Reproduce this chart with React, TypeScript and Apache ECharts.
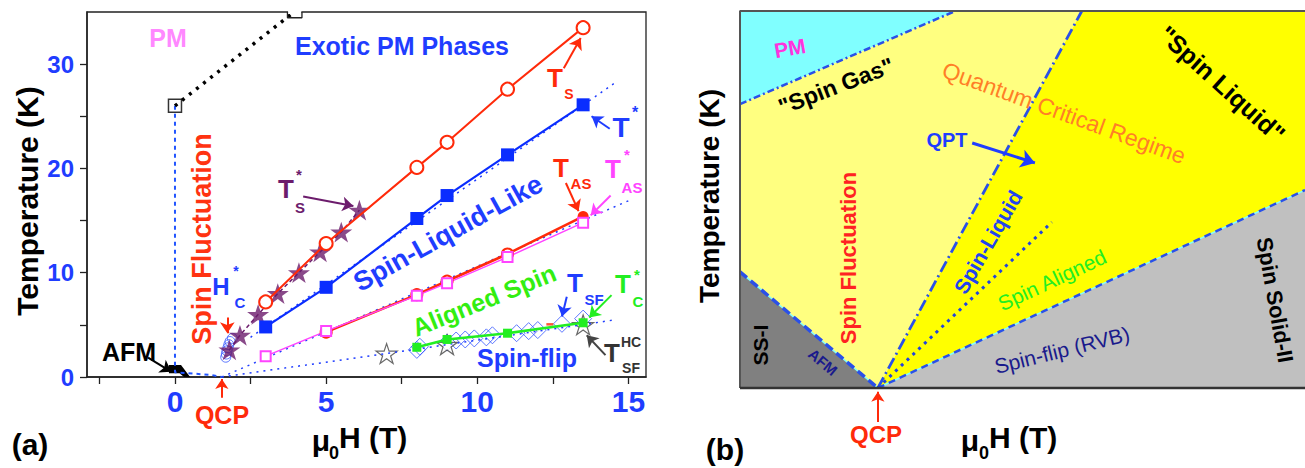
import React, { useEffect, useRef } from 'react';
import * as echarts from 'echarts';

const FONT = '"Liberation Sans", Arial, Helvetica, sans-serif';
const BLUE = '#1f3dff';
const RED = '#ff2a0a';
const MAGENTA = '#ff44ff';
const PURPLE = '#6c1c6c';
const GREEN = '#22ee22';
const DARK = '#333333';

// ---------- Panel (a): field μ0H (T) versus temperature (K) ----------
const tsField = [3, 5, 8, 9, 11, 13.5];
const tsTemp = [7.2, 12.8, 20.1, 22.5, 27.6, 33.5];

const tStarField = [3, 5, 8, 9, 11, 13.5];
const tStarTemp = [4.8, 8.6, 15.2, 17.4, 21.3, 26.1];

const tsStarField = [1.8, 2.15, 2.75, 3.4, 4.1, 4.8, 5.5, 6.1];
const tsStarTemp = [2.6, 4.0, 6.0, 8.0, 10.0, 12.0, 13.9, 16.0];

const tasField = [5, 8, 9, 11, 13.5];
const tasTemp = [4.3, 7.9, 9.2, 11.8, 15.4];

const tasStarField = [3, 5, 8, 9, 11, 13.5];
const tasStarTemp = [2.0, 4.4, 7.8, 9.0, 11.5, 14.8];

const tsfField = [8.0, 8.1, 9.0, 9.3, 9.6, 9.9, 10.3, 10.5, 11.3, 11.7, 12.0, 12.8, 13.5];
const tsfTemp = [2.6, 2.9, 3.3, 3.5, 3.6, 3.7, 3.8, 4.0, 4.2, 4.4, 4.5, 5.1, 5.6];

const tcStarField = [8, 9, 11, 13.5];
const tcStarTemp = [2.85, 3.6, 4.2, 5.2];

const tsfHcField = [7, 9, 13.5];
const tsfHcTemp = [2.25, 3.1, 5.0];

const hcField = [1.68, 1.7, 1.72, 1.75, 1.78, 1.82, 1.9];
const hcTemp = [1.9, 2.2, 2.5, 2.8, 3.1, 3.4, 3.7];

const extraMark = [[12.4, 5.05]];
const pmOnset = [[0, 26]];

// guide lines (field, temperature)
const fitTStar = [[2.5, 3.8], [14.6, 28.3]];
const fitTas = [[1.55, 0], [15, 16.9]];
const fitSpinFlip = [[1.55, 0], [7, 2.25], [14.6, 5.5]];
const pmBoundary = [[0, 26], [3.85, 34.8]];
const afmLink = [[0, 26], [0, 0.45], [1.2, 0.2], [1.55, 0]];
const afmRegion = [[-0.2, 0.35], [-0.2, 1.15], [0.2, 1.15], [0.5, 0], [0.3, 0], [0.15, 0.35]];
const axisBreak = [[3.72, 35], [3.72, 34.45], [4.2, 34.45], [4.2, 35]];
const axisBreakGap = [[3.74, 35], [4.18, 35]];

const xTicksA = [-2.5, 0, 2.5, 5, 7.5, 10, 12.5, 15];
const xLabelsA = [0, 5, 10, 15];
const yTicksA = [0, 5, 10, 15, 20, 25, 30];
const yLabelsA = [0, 10, 20, 30];

// annotation arrows of panel (a), [from, to, colour]
const arrowsA: [number[], number[], string][] = [
  [[12.86, 29.6], [13.42, 32.5], RED],
  [[14.38, 23.8], [13.78, 25.0], BLUE],
  [[12.93, 18.6], [13.35, 15.9], RED],
  [[14.41, 17.4], [13.75, 15.5], MAGENTA],
  [[4.24, 17.3], [5.9, 16.4], PURPLE],
  [[1.73, 5.7], [1.73, 4.2], RED],
  [[12.96, 7.7], [12.8, 5.8], BLUE],
  [[14.44, 7.85], [13.7, 5.7], GREEN],
  [[14.24, 2.1], [13.62, 4.0], '#444'],
  [[-0.89, 1.85], [-0.12, 0.5], '#000'],
];
const qcpArrowA = [[1.55, -2.0], [1.55, -0.2]];

// ---------- Panel (b): schematic phase diagram (arbitrary units 0–10) ----------
const qcpB = [2.44, 0];
const regionPM = [[0, 7.53], [0, 10], [3.81, 10]];
const regionFluct = [[0, 3.08], [0, 7.53], [3.81, 10], [6.05, 10], [2.44, 0]];
const regionLiquid = [[2.44, 0], [6.05, 10], [10, 10], [10, 5.25]];
const regionFlip = [[2.44, 0], [10, 5.25], [10, 0]];
const regionAFM = [[0, 0], [0, 3.08], [2.44, 0]];

const lineGas = [[0, 7.53], [3.81, 10]];
const lineAFM = [[0, 3.08], qcpB];
const lineQPT = [qcpB, [6.05, 10]];
const lineFlip = [qcpB, [10, 5.25]];
const lineAligned = [qcpB, [5.52, 4.4]];
const qptArrow = [[4.11, 6.5], [5.22, 5.97]];
const qcpArrowB = [[2.44, -0.9], [2.44, -0.1]];

const STAR = 'path://M50,2 L61.2,36.2 L97.6,36.2 L68.2,57.6 L79.4,91.8 L50,70.6 L20.6,91.8 L31.8,57.6 L2.4,36.2 L38.8,36.2 Z';

const zip = (xs: number[], ys: number[]) => xs.map((x, i) => [x, ys[i]]);
const A = { xAxisIndex: 0, yAxisIndex: 0 };
const B = { xAxisIndex: 1, yAxisIndex: 1 };

const polygonSeries = (axes: any, pts: number[][], fill: string) => ({
  type: 'custom',
  ...axes,
  silent: true,
  clip: false,
  data: [[pts[0][0], pts[0][1]]],
  renderItem: (_p: any, api: any) => ({
    type: 'polygon',
    shape: { points: pts.map((p) => api.coord(p)) },
    style: { fill },
  }),
});

const guide = (axes: any, data: number[][], color: string, width: number, dash: any, extra: any = {}) => ({
  type: 'line',
  ...axes,
  data,
  symbol: 'none',
  silent: true,
  lineStyle: { color, width, type: dash, cap: 'butt' },
  ...extra,
});

const txt = (x: number, y: number, text: string, size: number, color: string, rot = 0, weight = 'bold', align = 'center') => ({
  type: 'text',
  x,
  y,
  rotation: (rot * Math.PI) / 180,
  z: 100,
  silent: true,
  style: {
    text,
    fill: color,
    fontSize: size,
    fontWeight: weight,
    fontFamily: FONT,
    align,
    verticalAlign: 'middle',
    textAlign: align,
    textVerticalAlign: 'middle',
  },
});

function buildOption() {
  const series: any[] = [
    // panel (b) regions
    polygonSeries(B, regionFluct, '#ffff80'),
    polygonSeries(B, regionPM, '#80ffff'),
    polygonSeries(B, regionLiquid, '#ffff00'),
    polygonSeries(B, regionFlip, '#c0c0c0'),
    polygonSeries(B, regionAFM, '#808080'),
    guide(B, lineGas, '#2a50e8', 2.5, [7, 3, 2, 3], { clip: false }),
    guide(B, lineAFM, '#80ffff', 1.5, 'solid'),
    guide(B, lineAFM, '#2a50e8', 3.5, [9, 5]),
    guide(B, lineFlip, '#80ffff', 1.5, 'solid'),
    guide(B, lineFlip, '#2a50e8', 2.5, [7, 5]),
    guide(B, lineQPT, '#2a50e8', 2.8, [12, 4, 2, 4], { clip: false }),
    guide(B, lineAligned, '#2244dd', 3, [3, 5]),
    guide(B, [[0, 0], [0, 10], [10, 10]], '#555', 2, 'solid', { clip: false }),
    guide(B, [[0, 0], [10, 0]], '#333', 2.5, 'solid', { clip: false }),
    {
      type: 'lines',
      coordinateSystem: 'cartesian2d',
      ...B,
      clip: false,
      silent: true,
      symbol: ['none', 'arrow'],
      symbolSize: 14,
      lineStyle: { width: 3, opacity: 1, color: '#1f3dff' },
      data: [{ coords: qptArrow }],
      z: 5,
    },
    {
      type: 'lines',
      coordinateSystem: 'cartesian2d',
      ...B,
      clip: false,
      silent: true,
      symbol: ['none', 'arrow'],
      symbolSize: 10,
      lineStyle: { width: 2, opacity: 1, color: RED },
      data: [{ coords: qcpArrowB }],
      z: 5,
    },

    // panel (a)
    polygonSeries(A, afmRegion, '#000'),
    guide(A, fitTStar, BLUE, 1.5, [2, 5]),
    guide(A, fitTas, BLUE, 1.5, [2, 5]),
    guide(A, fitSpinFlip, BLUE, 1.5, [2, 5]),
    guide(A, afmLink, '#2255ff', 2, [4, 4]),
    guide(A, pmBoundary, '#000', 3.5, [3, 6], { clip: false }),
    guide(A, axisBreakGap, '#fff', 4, 'solid', { clip: false }),
    guide(A, axisBreak, '#222', 1.3, 'solid', { clip: false }),
    guide(A, zip(tsStarField, tsStarTemp), PURPLE, 1.5, [4, 3]),
    {
      type: 'line',
      ...A,
      silent: true,
      data: zip(tsField, tsTemp),
      symbol: 'emptyCircle',
      symbolSize: 13,
      itemStyle: { color: RED, borderWidth: 1.3 },
      lineStyle: { color: RED, width: 2 },
    },
    {
      type: 'line',
      ...A,
      silent: true,
      data: zip(tStarField, tStarTemp),
      symbol: 'rect',
      symbolSize: 13,
      itemStyle: { color: '#0a2dff' },
      lineStyle: { color: '#0a2dff', width: 2.2 },
    },
    {
      type: 'line',
      ...A,
      silent: true,
      data: zip(tasField, tasTemp).map((p, i) => (i === tasField.length - 1 ? { value: p, symbol: 'circle' } : p)),
      symbol: 'emptyCircle',
      symbolSize: 11,
      itemStyle: { color: RED, borderWidth: 3 },
      lineStyle: { color: RED, width: 2.6 },
    },
    {
      type: 'line',
      ...A,
      silent: true,
      data: zip(tasStarField, tasStarTemp),
      symbol: 'emptyRect',
      symbolSize: 10,
      itemStyle: { color: MAGENTA, borderWidth: 1.2 },
      lineStyle: { color: MAGENTA, width: 1.5 },
    },
    {
      type: 'scatter',
      ...A,
      silent: true,
      data: zip(tsfField, tsfTemp),
      symbol: 'diamond',
      symbolSize: 17,
      itemStyle: { color: 'rgba(0,0,0,0)', borderColor: '#3355ff', borderWidth: 1 },
    },
    {
      type: 'line',
      ...A,
      silent: true,
      data: zip(tcStarField, tcStarTemp),
      symbol: 'rect',
      symbolSize: 9,
      itemStyle: { color: GREEN },
      lineStyle: { color: GREEN, width: 2.5 },
    },
    {
      type: 'scatter',
      ...A,
      silent: true,
      data: zip(tsfHcField, tsfHcTemp),
      symbol: STAR,
      symbolKeepAspect: true,
      symbolSize: 21,
      itemStyle: { color: '#fff', borderColor: '#444', borderWidth: 1.2 },
    },
    {
      type: 'scatter',
      ...A,
      silent: true,
      data: extraMark,
      symbol: 'rect',
      symbolSize: [7, 2.5],
      itemStyle: { color: RED },
    },
    {
      type: 'scatter',
      ...A,
      silent: true,
      data: zip(hcField, hcTemp),
      symbol: 'circle',
      symbolSize: 10,
      itemStyle: { color: 'rgba(0,0,0,0)', borderColor: '#3355ff', borderWidth: 1 },
    },
    {
      type: 'scatter',
      ...A,
      silent: true,
      data: zip(tsStarField, tsStarTemp),
      symbol: STAR,
      symbolKeepAspect: true,
      symbolSize: 22,
      itemStyle: { color: PURPLE },
    },
    {
      type: 'scatter',
      ...A,
      silent: true,
      clip: false,
      data: pmOnset,
      symbol: 'rect',
      symbolSize: 13,
      itemStyle: { color: '#fff', borderColor: '#000', borderWidth: 1.5 },
    },
    {
      type: 'lines',
      coordinateSystem: 'cartesian2d',
      ...A,
      silent: true,
      clip: false,
      symbol: ['none', 'arrow'],
      symbolSize: 11,
      lineStyle: { width: 2, opacity: 1 },
      data: arrowsA.map(([from, to, color]) => ({ coords: [from, to], lineStyle: { color, width: 2, opacity: 1 } })),
      z: 6,
    },
    {
      type: 'lines',
      coordinateSystem: 'cartesian2d',
      ...A,
      silent: true,
      clip: false,
      symbol: ['none', 'arrow'],
      symbolSize: 10,
      lineStyle: { width: 2, opacity: 1, color: RED },
      data: [{ coords: qcpArrowA }],
      z: 6,
    },
  ];

  const graphic: any[] = [
    // panel (a) texts
    txt(27, 201, 'Temperature (K)', 30, '#000', 90),
    txt(321, 440, 'μ', 30, '#000'),
    txt(334, 453, '0', 18, '#000'),
    txt(339, 437, 'H (T)', 30, '#000', 0, 'bold', 'left'),
    txt(30, 444, '(a)', 30, '#000'),
    txt(222, 415, 'QCP', 25, RED),
    txt(129, 352, 'AFM', 25, '#000'),
    txt(168, 38, 'PM', 25, '#ff88ff'),
    txt(402, 46, 'Exotic PM Phases', 25, BLUE),
    txt(202, 239, 'Spin Fluctuation', 27, '#ff3311', 90),
    txt(448, 233, 'Spin-Liquid-Like', 27, BLUE, 29),
    txt(484, 300, 'Aligned Spin', 25, '#33ee11', 22),
    txt(527, 358, 'Spin-flip', 25, BLUE),
    txt(555, 78, 'T', 26, RED),
    txt(569, 94, 'S', 14, RED),
    txt(621, 127, 'T', 28, BLUE),
    txt(635, 112, '*', 16, BLUE),
    txt(561, 168, 'T', 26, RED),
    txt(581, 183, 'AS', 15, RED),
    txt(613, 169, 'T', 26, MAGENTA),
    txt(627, 154, '*', 15, MAGENTA),
    txt(632, 187, 'AS', 15, MAGENTA),
    txt(286, 189, 'T', 26, PURPLE),
    txt(299, 174, '*', 15, PURPLE),
    txt(300, 207, 'S', 15, PURPLE),
    txt(221, 286, 'H', 24, BLUE),
    txt(236, 271, '*', 14, BLUE),
    txt(240, 302, 'C', 15, BLUE),
    txt(575, 283, 'T', 26, BLUE),
    txt(594, 299, 'SF', 15, BLUE),
    txt(623, 284, 'T', 26, GREEN),
    txt(637, 274, '*', 15, GREEN),
    txt(638, 301, 'C', 15, GREEN),
    txt(612, 353, 'T', 26, DARK),
    txt(631, 342, 'HC', 14, DARK),
    txt(631, 368, 'SF', 14, DARK),

    // panel (b) texts
    txt(709, 196, 'Temperature (K)', 28, '#000', 90),
    txt(970, 440, 'μ', 30, '#000'),
    txt(984, 453, '0', 18, '#000'),
    txt(989, 437, 'H (T)', 30, '#000', 0, 'bold', 'left'),
    txt(725, 449, '(b)', 30, '#000'),
    txt(876, 434, 'QCP', 24, RED),
    txt(790, 48, 'PM', 21, '#ff33dd', 10),
    txt(836, 86, '"Spin Gas"', 23, '#000', 21),
    txt(1064, 113, 'Quantum Critical Regime', 23, '#ff7f27', -20, 'normal'),
    txt(1222, 84, '"Spin Liquid"', 25, '#000', -42),
    txt(947, 140, 'QPT', 20, BLUE),
    txt(988, 242, 'Spin-Liquid', 21, '#2244ee', 60),
    txt(1052, 280, 'Spin Aligned', 21, GREEN, 25, 'normal'),
    txt(1062, 350, 'Spin-flip (RVB)', 21, '#1a1a8c', 14, 'normal'),
    txt(1275, 300, 'Spin Solid-II', 22, '#000', -80),
    txt(760, 345, 'SS-I', 21, '#000', 90),
    txt(823, 362, 'AFM', 15, '#1a1a8c', -40),
    txt(848, 258, 'Spin Fluctuation', 22, '#ff2222', 90),
  ];

  return {
    animation: false,
    backgroundColor: '#fff',
    textStyle: { fontFamily: FONT },
    grid: [
      { left: 87, top: 12, width: 559, height: 365, show: true, borderColor: '#222', borderWidth: 1.3, backgroundColor: 'rgba(0,0,0,0)' },
      { left: 740, top: 11, width: 565, height: 377, show: false },
    ],
    xAxis: [
      {
        type: 'value',
        gridIndex: 0,
        min: -2.91,
        max: 15.58,
        axisLine: { show: true, onZero: false, lineStyle: { color: '#222', width: 1.5 } },
        axisTick: { show: true, length: 7, customValues: xTicksA, lineStyle: { color: '#222', width: 1.3 } },
        axisLabel: { customValues: xLabelsA, fontSize: 30, fontWeight: 'bold', color: BLUE, margin: 9, fontFamily: FONT },
        splitLine: { show: false },
      },
      { type: 'value', gridIndex: 1, min: 0, max: 10, show: false },
    ],
    yAxis: [
      {
        type: 'value',
        gridIndex: 0,
        min: 0,
        max: 35,
        axisLine: { show: true, onZero: false, lineStyle: { color: '#222', width: 1.5 } },
        axisTick: { show: true, length: 7, customValues: yTicksA, lineStyle: { color: '#222', width: 1.3 } },
        axisLabel: { customValues: yLabelsA, fontSize: 24, fontWeight: 'bold', color: BLUE, margin: 13, fontFamily: FONT },
        splitLine: { show: false },
      },
      { type: 'value', gridIndex: 1, min: 0, max: 10, show: false },
    ],
    series,
    graphic,
  };
}

export default function App() {
  const ref = useRef<HTMLDivElement>(null);
  useEffect(() => {
    document.body.style.margin = '0';
    if (!ref.current) return;
    const chart = echarts.init(ref.current, undefined, { renderer: 'svg' });
    chart.setOption(buildOption() as any);
    return () => chart.dispose();
  }, []);
  return <div ref={ref} style={{ width: 1305, height: 468 }} />;
}
